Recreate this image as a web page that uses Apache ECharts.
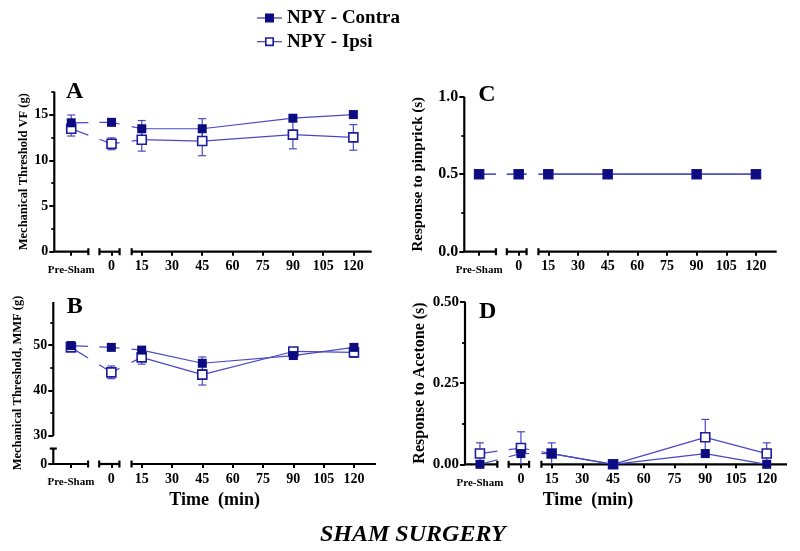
<!DOCTYPE html>
<html><head><meta charset="utf-8">
<script src="https://cdn.jsdelivr.net/npm/echarts@6/dist/echarts.min.js"></script>
<style>html,body{margin:0;padding:0;background:#fff}#c{width:800px;height:551px}</style>
</head><body><div id="c"></div>
<script>
// ---- data ----
const timeLabels = ['Pre-Sham', '0', '15', '45', '90', '120'];
const timePos = [-20, 0, 15, 45, 90, 120];           // Pre-Sham placed left of 0
const xTickValues = [-20, 0, 15, 30, 45, 60, 75, 90, 105, 120];

const vfContra    = [14.1, 14.15, 13.45, 13.45, 14.6, 15.0];
const vfContraErr = [0.85, 0.25, 0.9, 1.1, 0.3, 0.3];
const vfIpsi      = [13.45, 11.8, 12.25, 12.1, 12.8, 12.5];
const vfIpsiErr   = [0.8, 0.65, 1.25, 1.6, 1.55, 1.4];

const mmfContra    = [49.9, 49.5, 48.9, 46.0, 47.7, 49.5];
const mmfContraErr = [0.5, 0.4, 0.6, 1.4, 0.6, 0.6];
const mmfIpsi      = [49.5, 44.0, 47.3, 43.5, 48.6, 48.4];
const mmfIpsiErr   = [0.6, 1.4, 1.5, 2.3, 0.7, 1.1];

const pinContra    = [0.5, 0.5, 0.5, 0.5, 0.5, 0.5];
const pinContraErr = [0, 0, 0, 0, 0, 0];
const pinIpsi      = [0.5, 0.5, 0.5, 0.5, 0.5, 0.5];
const pinIpsiErr   = [0, 0, 0, 0, 0, 0];

const aceContra    = [0, 0.033, 0.033, 0, 0.033, 0];
const aceContraErr = [0, 0, 0, 0, 0, 0];
const aceIpsi      = [0.033, 0.05, 0.033, 0, 0.083, 0.033];
const aceIpsiErr   = [0.033, 0.05, 0.033, 0, 0.055, 0.033];

// ---- style / layout ----
const FONT = '"Liberation Serif", "Times New Roman", Times, serif';
const LINE = '#4848c4';
const NAVY = '#0c0c80';
const HOLLOW = '#1c1c9c';
const gaps = [[-11.5, -6], [4, 10]];
const bZero = 23.8; // display position of "0" on the broken MMF axis

const panels = [
  {letter:'A', grid:{left:54.3, top:91.7, width:317.4, height:160}, xMin:-28.4, xMax:129.1,
   yMin:0, yMax:17.5, yMajor:[0,5,10,15], yMinor:[2.5,7.5,12.5,17.5], yFmt:v=>String(v),
   ySegs:[[0,17.5]], yLabelSize:14, yName:'Mechanical Threshold VF (g)', yNameSize:12.5, yNameGap:23,
   contra:vfContra, contraErr:vfContraErr, ipsi:vfIpsi, ipsiErr:vfIpsiErr, xName:'', letterPos:[66,80]},
  {letter:'B', grid:{left:53.3, top:302, width:322.7, height:162}, xMin:-28.7, xMax:130.9,
   yMin:bZero, yMax:59.5, yMajor:[bZero,30,40,50], yMinor:[35,45,55], yFmt:v=>(v===bZero?'0':String(v)),
   ySegs:[[bZero,27.2],[30,59.5]], yLabelSize:14, yName:'Mechanical Threshold, MMF (g)', yNameSize:12.5, yNameGap:28.7,
   contra:mmfContra, contraErr:mmfContraErr, ipsi:mmfIpsi, ipsiErr:mmfIpsiErr, xName:'Time  (min)', xNamePad:[0,0,0,0], letterPos:[66.7,295]},
  {letter:'C', grid:{left:464.3, top:96.7, width:312.4, height:155}, xMin:-27.5, xMax:130.5,
   yMin:0, yMax:1, yMajor:[0,0.5,1], yMinor:[0.25,0.75], yFmt:v=>v.toFixed(1),
   ySegs:[[0,1]], yLabelSize:16, yName:'Response to pinprick (s)', yNameSize:15, yNameGap:38.8,
   contra:pinContra, contraErr:pinContraErr, ipsi:pinIpsi, ipsiErr:pinIpsiErr, xName:'', letterPos:[478.3,83]},
  {letter:'D', grid:{left:465, top:301.7, width:322, height:162.6}, xMin:-27.3, xMax:129.9,
   yMin:0, yMax:0.5, yMajor:[0,0.25,0.5], yMinor:[0.125,0.375], yFmt:v=>v.toFixed(2),
   ySegs:[[0,0.5]], yLabelSize:15, yName:'Response to Acetone (s)', yNameSize:16, yNameGap:37,
   contra:aceContra, contraErr:aceContraErr, ipsi:aceIpsi, ipsiErr:aceIpsiErr, xName:'Time  (min)', xNamePad:[0,76,0,0], letterPos:[479,299.7]}
];

function clipPieces(x0, y0, x1, y1, gapsPx) {
  let pieces = [[x0, x1]];
  gapsPx.forEach(([g0, g1]) => {
    const out = [];
    pieces.forEach(([a, b]) => {
      if (b <= g0 || a >= g1) out.push([a, b]);
      else { if (a < g0) out.push([a, g0]); if (b > g1) out.push([g1, b]); }
    });
    pieces = out;
  });
  return pieces.map(([a, b]) => [a, y0 + (y1 - y0) * (a - x0) / (x1 - x0), b, y0 + (y1 - y0) * (b - x0) / (x1 - x0)]);
}

function decorRender(cfg) {
  const xSegs = [[cfg.xMin, gaps[0][0]], [gaps[0][1], gaps[1][0]], [gaps[1][1], cfg.xMax]];
  return function (params, api) {
    const children = [];
    const line = (x1, y1, x2, y2) => children.push({type:'line', shape:{x1, y1, x2, y2}, style:{stroke:'#000', lineWidth:2.2}});
    xSegs.forEach(([a, b], k) => {
      const p1 = api.coord([a, cfg.yMin]), p2 = api.coord([b, cfg.yMin]);
      line(p1[0] - (k === 0 ? 1 : 0), p1[1], p2[0], p2[1]);
      if (k > 0) line(p1[0], p1[1] - 3.5, p1[0], p1[1] + 3.5);
      if (k < xSegs.length - 1) line(p2[0], p2[1] - 3.5, p2[0], p2[1] + 3.5);
    });
    cfg.ySegs.forEach(([a, b], k) => {
      const p1 = api.coord([cfg.xMin, a]), p2 = api.coord([cfg.xMin, b]);
      line(p1[0], p1[1], p2[0], p2[1]);
      if (k < cfg.ySegs.length - 1) line(p2[0] - 3.5, p2[1], p2[0] + 3.5, p2[1]);
    });
    return {type:'group', children};
  };
}

function seriesRender(cfg, vals) {
  return function (params, api) {
    const i = params.dataIndex;
    const x = api.value(0), y = api.value(1), e = api.value(2);
    const children = [];
    const st = {stroke: LINE, lineWidth: 1.2};
    const pt = api.coord([x, y]);
    if (e > 0) {
      const top = api.coord([x, y + e]);
      const bot = api.coord([x, Math.max(y - e, cfg.yMin)]);
      children.push({type:'line', shape:{x1:pt[0], y1:top[1], x2:pt[0], y2:bot[1]}, style:st});
      children.push({type:'line', shape:{x1:pt[0]-4, y1:top[1], x2:pt[0]+4, y2:top[1]}, style:st});
      if (y - e > cfg.yMin) children.push({type:'line', shape:{x1:pt[0]-4, y1:bot[1], x2:pt[0]+4, y2:bot[1]}, style:st});
    }
    if (i > 0) {
      const prev = api.coord([timePos[i - 1], vals[i - 1]]);
      const gp = gaps.map(g => [api.coord([g[0], y])[0], api.coord([g[1], y])[0]]);
      clipPieces(prev[0], prev[1], pt[0], pt[1], gp).forEach(s => {
        children.push({type:'line', shape:{x1:s[0], y1:s[1], x2:s[2], y2:s[3]}, style:st});
      });
    }
    return {type:'group', children};
  };
}

const grids = [], xAxes = [], yAxes = [], series = [], titles = [];
const labelStyle = {fontFamily: FONT, fontWeight: 'bold', color: '#000'};

panels.forEach((cfg, k) => {
  grids.push(Object.assign({containLabel:false}, cfg.grid));
  xAxes.push({
    gridIndex:k, type:'value', min:cfg.xMin, max:cfg.xMax, position:'bottom',
    axisLine:{show:false, onZero:false}, splitLine:{show:false},
    axisTick:{show:true, customValues:xTickValues, length:4, lineStyle:{color:'#000', width:2}},
    axisLabel:Object.assign({customValues:xTickValues, margin:8, fontSize:14,
      formatter: v => (v === -20 ? '{ps|Pre-Sham}' : String(v)),
      rich:{ps:{fontSize:11, fontWeight:'bold', fontFamily:FONT, color:'#000', padding:[5,0,0,0]}}}, labelStyle),
    name: cfg.xName, nameLocation:'middle', nameGap:27,
    nameTextStyle:Object.assign({fontSize:18, padding: cfg.xNamePad || [0,0,0,0]}, labelStyle)
  });
  yAxes.push({
    gridIndex:k, type:'value', min:cfg.yMin, max:cfg.yMax, position:'left',
    axisLine:{show:false, onZero:false}, splitLine:{show:false},
    axisTick:{show:true, customValues:cfg.yMajor, length:5, lineStyle:{color:'#000', width:2}},
    axisLabel:Object.assign({customValues:cfg.yMajor, margin:6, fontSize:cfg.yLabelSize, formatter:cfg.yFmt}, labelStyle),
    name: cfg.yName, nameLocation:'middle', nameGap:cfg.yNameGap, nameRotate:90,
    nameTextStyle:Object.assign({fontSize:cfg.yNameSize}, labelStyle)
  });
  yAxes.push({
    gridIndex:k, type:'value', min:cfg.yMin, max:cfg.yMax, position:'left', offset:0,
    axisLine:{show:false, onZero:false}, splitLine:{show:false}, axisLabel:{show:false},
    axisTick:{show:true, customValues:cfg.yMinor, length:3, lineStyle:{color:'#000', width:1.8}}
  });
  const yi = 2 * k;
  series.push({type:'custom', xAxisIndex:k, yAxisIndex:yi, silent:true, z:1,
    data:[[cfg.xMin, cfg.yMin]], encode:{x:0, y:1}, renderItem:decorRender(cfg)});
  series.push({type:'custom', xAxisIndex:k, yAxisIndex:yi, silent:true, z:2,
    data:timePos.map((t, i) => [t, cfg.ipsi[i], cfg.ipsiErr[i]]), encode:{x:0, y:1}, renderItem:seriesRender(cfg, cfg.ipsi)});
  series.push({type:'custom', xAxisIndex:k, yAxisIndex:yi, silent:true, z:2,
    data:timePos.map((t, i) => [t, cfg.contra[i], cfg.contraErr[i]]), encode:{x:0, y:1}, renderItem:seriesRender(cfg, cfg.contra)});
  series.push({type:'scatter', name:'NPY - Ipsi', xAxisIndex:k, yAxisIndex:yi, silent:true, z:3,
    symbol:'rect', symbolSize:9, clip:false,
    itemStyle:{color:'#fff', borderColor:HOLLOW, borderWidth:1.6, opacity:1},
    data:timePos.map((t, i) => [t, cfg.ipsi[i]])});
  series.push({type:'scatter', name:'NPY - Contra', xAxisIndex:k, yAxisIndex:yi, silent:true, z:4,
    symbol:'rect', symbolSize:9, clip:false,
    itemStyle:{color:NAVY, opacity:1},
    data:timePos.map((t, i) => [t, cfg.contra[i]])});
  titles.push({text:cfg.letter, left:cfg.letterPos[0], top:cfg.letterPos[1], padding:0,
    textStyle:{fontFamily:FONT, fontWeight:'bold', fontSize:24, color:'#000'}});
});

titles.push({text:'SHAM SURGERY', left:320, top:523, padding:0,
  textStyle:{fontFamily:FONT, fontWeight:'bold', fontStyle:'italic', fontSize:24, color:'#000'}});

const contraIcon = 'path://M0,4 L8,4 L8,0 L17,0 L17,4 L25,4 L25,5 L17,5 L17,9 L8,9 L8,5 L0,5 Z';
const ipsiIcon = 'path://M0,4 L8,4 L8,5 L0,5 Z M17,4 L25,4 L25,5 L17,5 Z M8,0 L17,0 L17,9 L8,9 Z M9.6,1.6 L9.6,7.4 L15.4,7.4 L15.4,1.6 Z';

const option = {
  animation:false,
  backgroundColor:'#fff',
  title:titles,
  legend:{
    left:257, top:8.5, orient:'vertical', padding:0, itemGap:4.7, itemWidth:25, itemHeight:9,
    selectedMode:false,
    textStyle:{fontFamily:FONT, fontWeight:'bold', fontSize:19, color:'#000'},
    data:[
      {name:'NPY - Contra', icon:contraIcon, itemStyle:{color:NAVY, borderWidth:0}},
      {name:'NPY - Ipsi', icon:ipsiIcon, itemStyle:{color:HOLLOW, borderWidth:0}}
    ]
  },
  grid:grids, xAxis:xAxes, yAxis:yAxes, series:series
};

const chart = echarts.init(document.getElementById('c'), null, {renderer:'canvas'});
chart.setOption(option);
</script>
</body></html>
